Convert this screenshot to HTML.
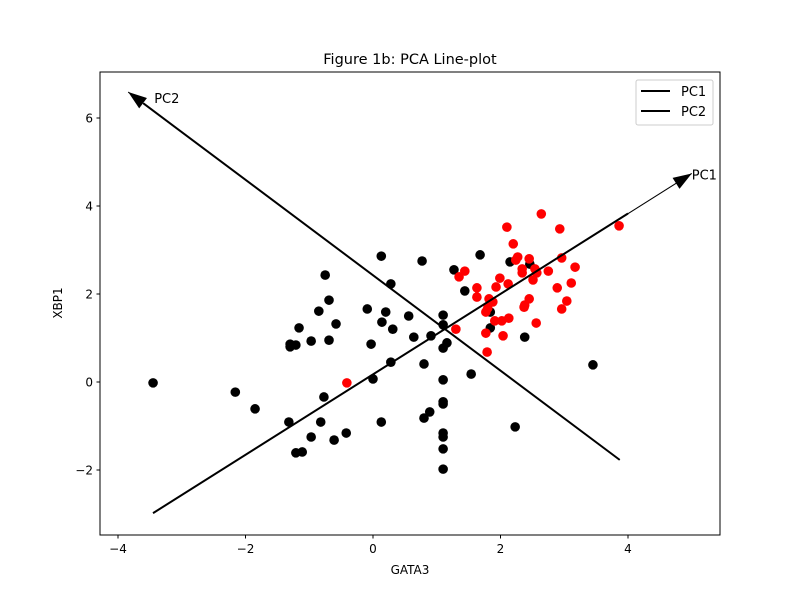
<!DOCTYPE html>
<html><head><meta charset="utf-8"><style>
body{margin:0;background:#fff}
svg text{font-family:"DejaVu Sans","Liberation Sans",sans-serif;fill:#000}
</style></head><body>
<svg id="chart" width="800" height="600" xmlns="http://www.w3.org/2000/svg">
<defs>
<marker id="ah" viewBox="0 0 20 14" refX="20" refY="7" markerWidth="19" markerHeight="13" markerUnits="userSpaceOnUse" orient="auto">
<path d="M0,0 L20,7 L0,14 Z" fill="#000"/>
</marker>
</defs>
<rect x="0" y="0" width="800" height="600" fill="#fff"/>
<g id="marks"></g>
<rect x="100" y="72" width="620" height="463" fill="none" stroke="#000" stroke-width="1"/>
<g id="axes"></g>
<text x="410" y="64" font-size="14.5" text-anchor="middle">Figure 1b: PCA Line-plot</text>
<text x="410" y="574" font-size="12" text-anchor="middle">GATA3</text>
<text x="62" y="303" font-size="12" text-anchor="middle" transform="rotate(-90 62 303)">XBP1</text>
<g>
<rect x="636" y="80" width="77" height="45" rx="2" fill="#fff" fill-opacity="0.8" stroke="#ccc"/>
<g><line x1="641" y1="91" x2="670" y2="91" stroke="#000" stroke-width="2"/><text x="681" y="96" font-size="13">PC1</text></g>
<g><line x1="641" y1="111" x2="670" y2="111" stroke="#000" stroke-width="2"/><text x="681" y="116" font-size="13">PC2</text></g>
</g>
</svg>
<script>
const blackX=[-3.45,-2.16,-1.85,-1.32,-1.21,-1.11,-0.97,-0.82,-0.77,-0.61,-0.42,0.00,0.13,0.28,0.80,0.89,0.80,1.10,1.10,1.10,1.10,1.10,1.10,1.10,0.13,0.77,1.27,-0.75,0.28,-0.69,-0.85,-0.09,0.20,0.56,0.14,-0.58,0.31,-1.16,-0.97,-0.69,-1.30,-1.21,-1.30,-0.03,0.64,0.91,1.10,1.10,1.16,1.10,1.68,1.44,2.15,2.46,1.84,1.84,2.38,1.54,3.45,2.23];
const blackY=[-0.02,-0.23,-0.61,-0.91,-1.61,-1.59,-1.25,-0.91,-0.34,-1.32,-1.16,0.07,-0.91,0.45,0.41,-0.68,-0.82,0.05,-0.45,-0.50,-1.16,-1.25,-1.52,-1.98,2.86,2.75,2.55,2.43,2.23,1.86,1.61,1.66,1.59,1.50,1.36,1.32,1.20,1.23,0.93,0.95,0.86,0.84,0.80,0.86,1.02,1.05,1.52,1.30,0.89,0.77,2.89,2.07,2.73,2.68,1.59,1.23,1.02,0.18,0.39,-1.02];
const redX=[2.64,2.10,2.93,3.86,2.20,2.27,2.24,2.45,2.96,3.17,2.34,2.34,2.54,2.57,2.75,1.44,1.35,1.99,2.51,2.12,3.11,1.93,1.63,2.89,1.63,2.45,1.82,1.88,2.38,2.37,3.04,2.96,1.80,1.77,2.13,2.02,1.91,2.56,1.30,1.77,2.04,1.79,-0.41];
const redY=[3.82,3.52,3.48,3.55,3.14,2.84,2.77,2.80,2.82,2.61,2.57,2.48,2.57,2.48,2.52,2.52,2.39,2.36,2.32,2.23,2.25,2.16,2.14,2.14,1.93,1.89,1.89,1.82,1.75,1.70,1.84,1.66,1.68,1.59,1.45,1.39,1.39,1.34,1.20,1.11,1.05,0.68,-0.02];
const pc1Line=[[-3.45,-2.98],[4.0,3.83]];
const pc1Arrow=[[-3.45,-2.98],[5.0,4.74]];
const pc2Line=[[3.87,-1.77],[-3.6,6.33]];
const pc2Arrow=[[3.87,-1.77],[-3.84,6.59]];
const xTicks=[-4,-2,0,2,4];
const yTicks=[-2,0,2,4,6];
const sx=v=>373+v*63.75, sy=v=>382-v*44;
const NS="http://www.w3.org/2000/svg";
const marks=document.getElementById('marks'), axes=document.getElementById('axes');
function mk(tag,attrs,parent){const e=document.createElementNS(NS,tag);for(const k in attrs)e.setAttribute(k,attrs[k]);parent.appendChild(e);return e;}
blackX.forEach((x,i)=>{const c=mk('circle',{cx:sx(x),cy:sy(blackY[i]),r:4.8,fill:'#000'},marks);

});
redX.forEach((x,i)=>{const c=mk('circle',{cx:sx(x),cy:sy(redY[i]),r:4.8,fill:'#ff0000'},marks);

});
function line(p,w,name,arrow){const l=mk('line',{x1:sx(p[0][0]),y1:sy(p[0][1]),x2:sx(p[1][0]),y2:sy(p[1][1]),stroke:'#000','stroke-width':w},marks);
if(arrow)l.setAttribute('marker-end','url(#ah)');

}
line(pc1Arrow,1.1,'pc1-arrow',true);line(pc2Arrow,1.1,'pc2-arrow',true);
line(pc1Line,2,'pc1-line');line(pc2Line,2,'pc2-line');
let t=mk('text',{x:sx(pc1Arrow[1][0]),y:sy(pc1Arrow[1][1])+6,'font-size':13},marks);t.textContent='PC1';


t=mk('text',{x:sx(pc2Arrow[1][0])+26,y:sy(pc2Arrow[1][1])+11,'font-size':13},marks);t.textContent='PC2';


xTicks.forEach(v=>{mk('line',{x1:sx(v),x2:sx(v),y1:535,y2:538.5,stroke:'#000'},axes);
const tx=mk('text',{x:sx(v),y:553,'font-size':12,'text-anchor':'middle'},axes);tx.textContent=v<0?'\u2212'+(-v):v;

});
yTicks.forEach(v=>{mk('line',{x1:96.5,x2:100,y1:sy(v),y2:sy(v),stroke:'#000'},axes);
const tx=mk('text',{x:93,y:sy(v)+4.5,'font-size':12,'text-anchor':'end'},axes);tx.textContent=v<0?'\u2212'+(-v):v;

});
</script>
</body></html>
